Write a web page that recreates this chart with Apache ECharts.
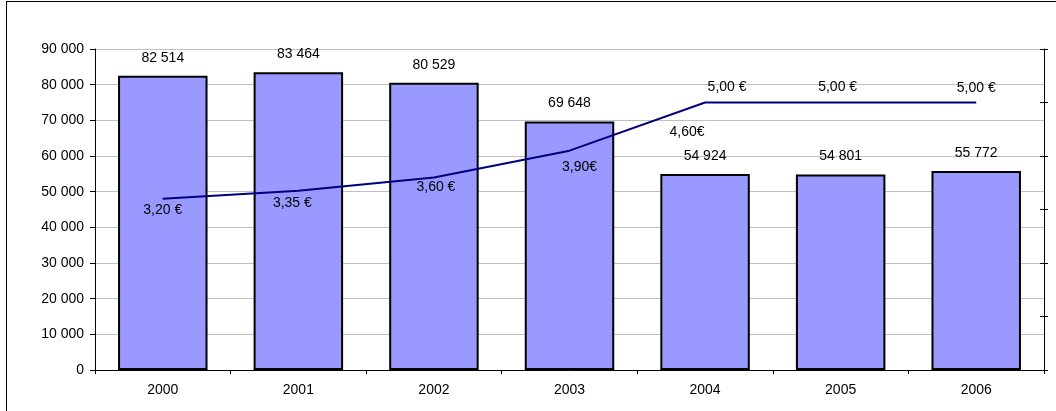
<!DOCTYPE html>
<html>
  <head>
    <meta charset="UTF-8" />
    <title>Ventes et prix</title>
    <script src="https://cdn.jsdelivr.net/npm/echarts@6/dist/echarts.min.js"></script>
    <style>
      body {
        padding: 0;
        margin: 0;
        background: #fff;
      }
      .frame {
        position: absolute;
        left: 6px;
        top: 1px;
        width: 1060px;
        height: 420px;
        border: 1px solid #000;
      }
      #main {
        position: absolute;
        left: 0;
        top: 0;
        width: 1056px;
        height: 411px;
      }
    </style>
  </head>
  <body>
    <div class="frame"></div>
    <div id="main"></div>
    <script type="text/javascript">
      // data
      var years = ["2000", "2001", "2002", "2003", "2004", "2005", "2006"];
      var sales = [82514, 83464, 80529, 69648, 54924, 54801, 55772];
      var prices = [3.2, 3.35, 3.6, 4.1, 5.0, 5.0, 5.0];
      var priceLabels = ["3,20 €", "3,35 €", "3,60 €", "3,90€", "5,00 €", "5,00 €", "5,00 €"];
      // stray label sitting next to the 2004 point
      var noteYear = "2004";
      var noteValue = 4.45;
      var noteText = "4,60€";

      // label placement for each price point (style only)
      var priceLabelPlace = [
        { position: "bottom", offset: [0, -1] },
        { position: "bottom", offset: [-6, 0] },
        { position: "bottom", offset: [2, -2] },
        { position: "bottom", offset: [10, 4] },
        { position: "top", offset: [22, -3] },
        { position: "top", offset: [-3, -3] },
        { position: "top", offset: [0, -2] }
      ];

      function spaced(n) {
        return String(n).replace(/\B(?=(\d{3})+(?!\d))/g, " ");
      }

      var font = "'Liberation Sans', Arial, sans-serif";
      var fs = 14;
      var chart = echarts.init(document.getElementById("main"));

      var priceData = prices.map(function(v, i) {
        return {
          value: v,
          label: {
            show: true,
            position: priceLabelPlace[i].position,
            offset: priceLabelPlace[i].offset,
            formatter: priceLabels[i]
          }
        };
      });

      var option = {
        animation: false,
        textStyle: { fontFamily: font },
        grid: { left: 95, right: 12, top: 49, bottom: 41 },
        xAxis: {
          type: "category",
          data: years,
          boundaryGap: true,
          axisLine: { lineStyle: { color: "#000", width: 1 } },
          axisTick: { show: true, length: 4, lineStyle: { color: "#000" } },
          axisLabel: { color: "#000", fontSize: fs, margin: 13, fontFamily: font },
          splitLine: { show: false }
        },
        yAxis: [
          {
            type: "value",
            min: 0,
            max: 90000,
            interval: 10000,
            axisLine: { show: true, lineStyle: { color: "#000" } },
            axisTick: { show: true, length: 5, lineStyle: { color: "#000" } },
            axisLabel: {
              color: "#000",
              fontSize: fs,
              margin: 11,
              fontFamily: font,
              formatter: function(v) {
                return spaced(v);
              }
            },
            splitLine: { show: true, lineStyle: { color: "#c0c0c0", width: 1 } }
          },
          {
            type: "value",
            position: "right",
            min: 0,
            max: 6,
            interval: 1,
            axisLine: { show: true, lineStyle: { color: "#000" } },
            axisTick: { show: true, length: 4, lineStyle: { color: "#000" } },
            axisLabel: { show: false },
            splitLine: { show: false }
          },
          {
            type: "value",
            position: "right",
            min: 0,
            max: 6,
            interval: 1,
            axisLine: { show: false },
            axisTick: { show: true, inside: true, length: 4, lineStyle: { color: "#000" } },
            axisLabel: { show: false },
            splitLine: { show: false }
          }
        ],
        series: [
          {
            name: "Ventes",
            type: "bar",
            data: sales,
            barWidth: "66%",
            itemStyle: { color: "#9999ff", borderColor: "#000", borderWidth: 2 },
            label: {
              show: true,
              position: "top",
              distance: 11,
              color: "#000",
              fontSize: fs,
              fontFamily: font,
              formatter: function(p) {
                return spaced(p.value);
              }
            }
          },
          {
            name: "Prix",
            type: "line",
            yAxisIndex: 1,
            data: priceData,
            showSymbol: true,
            symbol: "circle",
            symbolSize: 0,
            lineStyle: { color: "#000080", width: 2 },
            itemStyle: { color: "#000080" },
            label: { color: "#000", fontSize: fs, fontFamily: font }
          },
          {
            name: "Note",
            type: "scatter",
            yAxisIndex: 1,
            symbolSize: 0,
            data: [[noteYear, noteValue]],
            itemStyle: { opacity: 1 },
            label: {
              show: true,
              position: "inside",
              offset: [-18, 0],
              color: "#000",
              fontSize: fs,
              fontFamily: font,
              formatter: noteText
            }
          }
        ]
      };

      chart.setOption(option);
    </script>
  </body>
</html>
